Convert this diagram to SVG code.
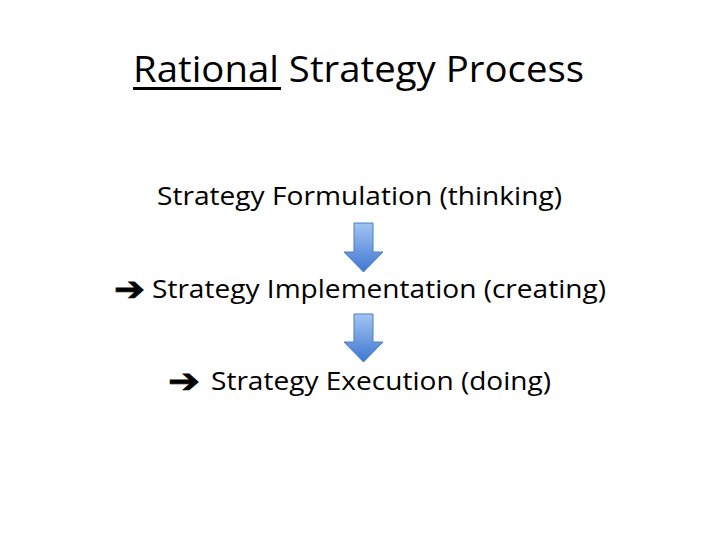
<svg xmlns="http://www.w3.org/2000/svg" width="720" height="540" viewBox="0 0 720 540">
<style>
.t{font-family:"Open Sans","Liberation Sans",Arial,sans-serif;fill:#000}
.ar{font-family:"DejaVu Sans",sans-serif;fill:#000;font-weight:bold;stroke:#000;stroke-width:0.8}
.da{fill:url(#g);stroke:#4a7ebb;stroke-width:1}
</style>
<defs>
<linearGradient id="g" x1="0" y1="0" x2="0" y2="1">
<stop offset="0" stop-color="#a3c4f3"/>
<stop offset="1" stop-color="#3f77d1"/>
</linearGradient>
</defs>
<rect width="720" height="540" fill="#fff"/>
<g id="title">
<text class="t" x="133" y="82" font-size="37" textLength="451" lengthAdjust="spacingAndGlyphs">Rational Strategy Process</text>
<rect x="133" y="87" width="148" height="3" fill="#000"/>
</g>
<g id="formulation">
<text class="t" x="157" y="205" font-size="25" textLength="405" lengthAdjust="spacingAndGlyphs">Strategy Formulation (thinking)</text>
</g>
<g id="implementation">
<text class="ar" x="114" y="300" font-size="33" textLength="31" lengthAdjust="spacingAndGlyphs">➔</text>
<text class="t" x="152" y="298" font-size="25" textLength="454" lengthAdjust="spacingAndGlyphs">Strategy Implementation (creating)</text>
</g>
<g id="execution">
<text class="ar" x="168" y="392" font-size="33" textLength="32" lengthAdjust="spacingAndGlyphs">➔</text>
<text class="t" x="211" y="390" font-size="25" textLength="340" lengthAdjust="spacingAndGlyphs">Strategy Execution (doing)</text>
</g>
<g id="connectors">
<path class="da" d="M354 223 H373 V252 H383 L363.5 272 L344 252 H354 Z"/>
<path class="da" d="M354 314 H373 V342 H383 L363.5 362 L344 342 H354 Z"/>
</g>
</svg>
